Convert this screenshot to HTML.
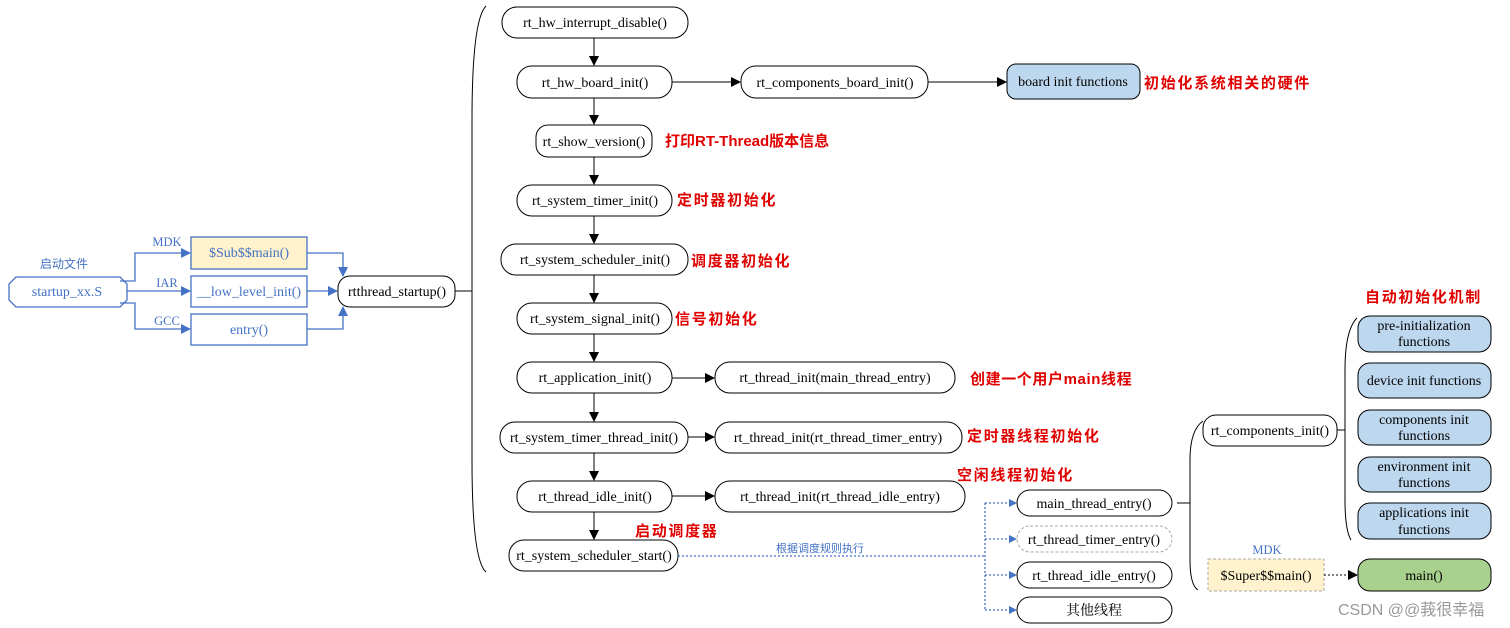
<!DOCTYPE html>
<html><head><meta charset="utf-8"><style>
html,body{margin:0;padding:0;background:#fff;}
svg{display:block;}
text{font-family:"Liberation Serif","Noto Serif CJK SC",serif;font-size:14px;}
.r{fill:#e00000;font-family:"Liberation Sans","Noto Sans CJK SC",sans-serif;font-weight:bold;font-size:15px;letter-spacing:1.7px;}
.b{fill:#4472c4;}
</style></head><body>
<svg width="1510" height="628" viewBox="0 0 1510 628" xmlns="http://www.w3.org/2000/svg">
<defs>
<marker id="ak" markerWidth="10" markerHeight="10" refX="9" refY="5" orient="auto" markerUnits="userSpaceOnUse"><path d="M0,0 L10,5 L0,10z" fill="#000"/></marker>
<marker id="ab" markerWidth="10" markerHeight="10" refX="9" refY="5" orient="auto" markerUnits="userSpaceOnUse"><path d="M0,0 L10,5 L0,10z" fill="#4472c4"/></marker>
<marker id="ab2" markerWidth="8" markerHeight="8" refX="7" refY="4" orient="auto" markerUnits="userSpaceOnUse"><path d="M0,0 L8,4 L0,8z" fill="#4472c4"/></marker>
</defs>
<g fill="none" stroke="#4472c4" stroke-width="1.3">
<path d="M16,277 L120,277 L127,284 L127,300 L120,307 L16,307 L9,300 L9,284 Z" fill="#fff"/>
<rect x="191" y="237" width="116" height="32" fill="#fff2cc"/>
<rect x="191" y="276" width="116" height="31" fill="#fff"/>
<rect x="191" y="314" width="116" height="31" fill="#fff"/>
<path d="M120,281 H135 V253 H190" marker-end="url(#ab)"/>
<path d="M127,291 H190" marker-end="url(#ab)"/>
<path d="M120,303 H135 V329 H190" marker-end="url(#ab)"/>
<path d="M307,253 H343 V276" marker-end="url(#ab)"/>
<path d="M307,291 H337" marker-end="url(#ab)"/>
<path d="M307,329 H343 V307" marker-end="url(#ab)"/>
</g>
<text x="64" y="268" text-anchor="middle" class="b" style="font-family:'Liberation Sans','Noto Sans CJK SC',sans-serif;font-size:12px">启动文件</text>
<text x="67" y="296" text-anchor="middle" class="b">startup_xx.S</text>
<text x="167" y="246" text-anchor="middle" class="b" style="font-size:12.5px">MDK</text>
<text x="167" y="287" text-anchor="middle" class="b" style="font-size:12.5px">IAR</text>
<text x="167" y="325" text-anchor="middle" class="b" style="font-size:12.5px">GCC</text>
<text x="249" y="257" text-anchor="middle" class="b">$Sub$$main()</text>
<text x="249" y="296" text-anchor="middle" class="b">__low_level_init()</text>
<text x="249" y="334" text-anchor="middle" class="b">entry()</text>

<g fill="#fff" stroke="#000" stroke-width="1">
<rect x="338" y="276" width="117" height="31" rx="12"/>
<rect x="502" y="7" width="186" height="31" rx="15"/>
<rect x="517" y="66" width="155" height="32" rx="15"/>
<rect x="536" y="125" width="116" height="32" rx="12"/>
<rect x="517" y="185" width="155" height="31" rx="15"/>
<rect x="501" y="244" width="187" height="31" rx="15"/>
<rect x="517" y="303" width="155" height="31" rx="15"/>
<rect x="517" y="362" width="155" height="31" rx="15"/>
<rect x="500" y="422" width="188" height="31" rx="15"/>
<rect x="517" y="481" width="155" height="31" rx="15"/>
<rect x="509" y="540" width="169" height="31" rx="15"/>
<rect x="741" y="66" width="187" height="32" rx="15"/>
<rect x="1007" y="64" width="133" height="35" rx="9" fill="#bdd7ee"/>
<rect x="715" y="362" width="240" height="31" rx="15"/>
<rect x="715" y="422" width="247" height="31" rx="15"/>
<rect x="715" y="481" width="250" height="31" rx="15"/>
<rect x="1017" y="490" width="155" height="26" rx="13"/>
<rect x="1017" y="526" width="155" height="26" rx="13" stroke="#aaa" stroke-dasharray="3,2"/>
<rect x="1017" y="562" width="155" height="26" rx="13"/>
<rect x="1017" y="597" width="155" height="26" rx="13"/>
<rect x="1203" y="415" width="134" height="31" rx="13"/>
<rect x="1358" y="316" width="133" height="36" rx="12" fill="#bdd7ee"/>
<rect x="1358" y="363" width="133" height="35" rx="12" fill="#bdd7ee"/>
<rect x="1358" y="410" width="133" height="35" rx="12" fill="#bdd7ee"/>
<rect x="1358" y="457" width="133" height="35" rx="12" fill="#bdd7ee"/>
<rect x="1358" y="503" width="133" height="36" rx="12" fill="#bdd7ee"/>
<rect x="1358" y="559" width="133" height="32" rx="12" fill="#a9d18e"/>
<rect x="1208" y="559" width="116" height="32" fill="#fff2cc" stroke="#aaa" stroke-dasharray="3,2"/>
</g>
<g stroke="#000" fill="none" stroke-width="1">
<path d="M594,38 V65" marker-end="url(#ak)"/>
<path d="M594,98 V124" marker-end="url(#ak)"/>
<path d="M594,157 V184" marker-end="url(#ak)"/>
<path d="M594,216 V243" marker-end="url(#ak)"/>
<path d="M594,275 V302" marker-end="url(#ak)"/>
<path d="M594,334 V361" marker-end="url(#ak)"/>
<path d="M594,393 V421" marker-end="url(#ak)"/>
<path d="M594,453 V480" marker-end="url(#ak)"/>
<path d="M594,512 V539" marker-end="url(#ak)"/>
<path d="M672,82 H740" marker-end="url(#ak)"/>
<path d="M928,82 H1006" marker-end="url(#ak)"/>
<path d="M672,378 H714" marker-end="url(#ak)"/>
<path d="M688,437 H714" marker-end="url(#ak)"/>
<path d="M672,496 H714" marker-end="url(#ak)"/>
<path d="M455,291 H472"/>
<path d="M486,6 Q472,20 472,120 V460 Q472,560 486,572"/>
<path d="M1177,503 H1190"/>
<path d="M1203,421 Q1190,430 1190,460 V560 Q1190,585 1198,590"/>
<path d="M1337,430 H1345"/>
<path d="M1357,318 Q1345,330 1345,370 V500 Q1345,530 1351,540"/>
<path d="M1324,575 H1357" stroke-dasharray="2,2" marker-end="url(#ak)"/>
</g>
<g stroke="#4472c4" fill="none" stroke-width="1.3" stroke-dasharray="2,2">
<path d="M678,556 H985"/>
<path d="M985,503 V610"/>
<path d="M985,503 H1016" marker-end="url(#ab2)"/>
<path d="M985,539 H1016" marker-end="url(#ab2)"/>
<path d="M985,575 H1016" marker-end="url(#ab2)"/>
<path d="M985,610 H1016" marker-end="url(#ab2)"/>
</g>
<g text-anchor="middle">
<text x="397" y="296">rtthread_startup()</text>
<text x="595" y="27">rt_hw_interrupt_disable()</text>
<text x="595" y="87">rt_hw_board_init()</text>
<text x="594" y="146">rt_show_version()</text>
<text x="595" y="205">rt_system_timer_init()</text>
<text x="595" y="264">rt_system_scheduler_init()</text>
<text x="595" y="323">rt_system_signal_init()</text>
<text x="595" y="382">rt_application_init()</text>
<text x="594" y="442">rt_system_timer_thread_init()</text>
<text x="595" y="501">rt_thread_idle_init()</text>
<text x="594" y="560">rt_system_scheduler_start()</text>
<text x="835" y="87">rt_components_board_init()</text>
<text x="1073" y="86">board init functions</text>
<text x="835" y="382">rt_thread_init(main_thread_entry)</text>
<text x="838" y="442">rt_thread_init(rt_thread_timer_entry)</text>
<text x="840" y="501">rt_thread_init(rt_thread_idle_entry)</text>
<text x="1094" y="508">main_thread_entry()</text>
<text x="1094" y="544">rt_thread_timer_entry()</text>
<text x="1094" y="580">rt_thread_idle_entry()</text>
<text x="1094" y="615">其他线程</text>
<text x="1270" y="435">rt_components_init()</text>
<text x="1424" y="330">pre-initialization</text><text x="1424" y="346">functions</text>
<text x="1424" y="385">device init functions</text>
<text x="1424" y="424">components init</text><text x="1424" y="440">functions</text>
<text x="1424" y="471">environment init</text><text x="1424" y="487">functions</text>
<text x="1424" y="517">applications init</text><text x="1424" y="534">functions</text>
<text x="1424" y="580">main()</text>
<text x="1266" y="580">$Super$$main()</text>
<text x="1267" y="554" class="b" style="font-size:12.5px">MDK</text>
<text x="820" y="552" class="b" style="font-family:'Liberation Sans','Noto Sans CJK SC',sans-serif;font-size:11px">根据调度规则执行</text>
</g>
<text class="r" x="1144" y="88">初始化系统相关的硬件</text>
<text class="r" x="665" y="146" style="letter-spacing:0">打印RT-Thread版本信息</text>
<text class="r" x="677" y="205">定时器初始化</text>
<text class="r" x="691" y="266">调度器初始化</text>
<text class="r" x="675" y="324">信号初始化</text>
<text class="r" x="970" y="384" style="letter-spacing:0.6px">创建一个用户main线程</text>
<text class="r" x="967" y="441">定时器线程初始化</text>
<text class="r" x="957" y="480">空闲线程初始化</text>
<text class="r" x="635" y="536">启动调度器</text>
<text class="r" x="1365" y="302">自动初始化机制</text>
<text x="1338" y="615" fill="#999" style="font-family:'Liberation Sans','Noto Sans CJK SC',sans-serif;font-size:16px">CSDN @@莪很幸福</text>
</svg>
</body></html>
